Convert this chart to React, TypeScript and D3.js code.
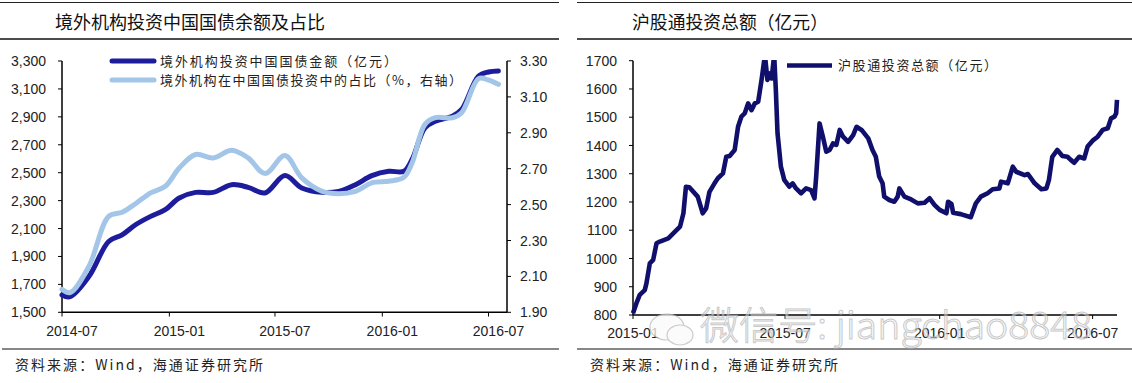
import React from "react";
import * as d3 from "d3";

// ---------- Left chart data ----------
const bondDates = ["2014-07-01","2014-07-15","2014-08-16","2014-09-19","2014-10-12","2014-11-04","2014-11-30","2014-12-25","2015-01-18","2015-02-15","2015-03-17","2015-04-18","2015-05-16","2015-06-14","2015-07-18","2015-08-16","2015-09-20","2015-10-18","2015-11-16","2015-12-14","2016-01-12","2016-02-07","2016-02-21","2016-03-14","2016-04-01","2016-04-30","2016-05-16","2016-06-14","2016-07-01","2016-07-18"];
const bondAmount = [1624,1612,1756,2007,2055,2127,2187,2235,2319,2359,2359,2414,2395,2355,2479,2390,2359,2366,2414,2479,2510,2510,2594,2821,2869,2905,2953,3192,3221,3228];
const bondShare = [2.028,2.01,2.155,2.434,2.457,2.505,2.565,2.602,2.704,2.779,2.76,2.803,2.76,2.673,2.773,2.649,2.574,2.561,2.574,2.621,2.63,2.652,2.732,2.947,2.984,2.984,3.012,3.202,3.194,3.17];
const leftTicks = [1500,1700,1900,2100,2300,2500,2700,2900,3100,3300];
const rightTicks = [1.9,2.1,2.3,2.5,2.7,2.9,3.1,3.3];
const bondXTicks = ["2014-07","2015-01","2015-07","2016-01","2016-07"];

// ---------- Right chart data ----------
const hgtDates = ["2015-01-01","2015-01-05","2015-01-09","2015-01-15","2015-01-17","2015-01-21","2015-01-25","2015-01-29","2015-02-02","2015-02-12","2015-02-20","2015-02-26","2015-03-02","2015-03-05","2015-03-09","2015-03-19","2015-03-25","2015-03-29","2015-04-02","2015-04-08","2015-04-12","2015-04-18","2015-04-22","2015-04-26","2015-05-02","2015-05-06","2015-05-10","2015-05-14","2015-05-18","2015-05-22","2015-05-26","2015-05-30","2015-06-03","2015-06-07","2015-06-10","2015-06-13","2015-06-15","2015-06-18","2015-06-20","2015-06-22","2015-06-26","2015-06-30","2015-07-06","2015-07-10","2015-07-14","2015-07-20","2015-07-26","2015-08-01","2015-08-05","2015-08-07","2015-08-11","2015-08-15","2015-08-19","2015-08-23","2015-08-27","2015-08-31","2015-09-04","2015-09-08","2015-09-14","2015-09-20","2015-09-24","2015-09-30","2015-10-08","2015-10-13","2015-10-17","2015-10-21","2015-10-25","2015-10-27","2015-11-02","2015-11-08","2015-11-12","2015-11-14","2015-11-20","2015-11-28","2015-12-06","2015-12-14","2015-12-20","2015-12-26","2016-01-01","2016-01-09","2016-01-11","2016-01-15","2016-01-17","2016-01-26","2016-02-07","2016-02-13","2016-02-19","2016-02-27","2016-03-04","2016-03-12","2016-03-14","2016-03-22","2016-03-28","2016-04-01","2016-04-11","2016-04-15","2016-04-23","2016-05-01","2016-05-07","2016-05-10","2016-05-14","2016-05-20","2016-05-26","2016-06-01","2016-06-05","2016-06-09","2016-06-15","2016-06-21","2016-06-25","2016-07-01","2016-07-07","2016-07-13","2016-07-19","2016-07-23","2016-07-27","2016-07-29","2016-07-30"];
const hgtValues = [806,841,871,888,912,983,995,1054,1060,1071,1095,1113,1160,1254,1252,1219,1160,1177,1236,1266,1284,1301,1360,1363,1384,1466,1502,1514,1549,1525,1549,1555,1632,1720,1632,1655,1637,1720,1596,1443,1325,1278,1254,1266,1248,1231,1248,1242,1213,1290,1478,1431,1378,1384,1407,1402,1455,1431,1413,1437,1466,1455,1425,1384,1360,1290,1266,1219,1207,1201,1219,1248,1219,1209,1195,1197,1213,1189,1172,1160,1201,1193,1162,1157,1146,1195,1219,1231,1245,1248,1272,1266,1325,1307,1295,1299,1266,1245,1248,1278,1360,1384,1363,1360,1349,1339,1360,1354,1396,1417,1431,1455,1461,1496,1502,1514,1561];
const hgtTicks = [800,900,1000,1100,1200,1300,1400,1500,1600,1700];
const hgtXTicks = ["2015-01","2015-07","2016-01","2016-07"];

const parseDay = d3.timeParse("%Y-%m-%d");
const parseMonth = d3.timeParse("%Y-%m");

const NUM = "'Liberation Sans', Arial, sans-serif";
const CJK = "'Noto Sans CJK SC', sans-serif";

export default function App() {
  // left chart scales
  const xL = d3.scaleTime().domain([parseMonth("2014-07")!, parseMonth("2016-07")!]).range([62, 488.5]);
  const yL = d3.scaleLinear().domain([1500, 3300]).range([312.3, 61]);
  const yR = d3.scaleLinear().domain([1.9, 3.3]).range([312.3, 61]);
  const bondRows = bondDates.map((d, i) => ({ date: parseDay(d)!, amt: bondAmount[i], share: bondShare[i] }));
  const amtLine = d3.line<any>().x(d => xL(d.date)).y(d => yL(d.amt)).curve(d3.curveCatmullRom.alpha(0.5));
  const shareLine = d3.line<any>().x(d => xL(d.date)).y(d => yR(d.share)).curve(d3.curveCatmullRom.alpha(0.5));
  const fmtL = d3.format(",");
  const fmtR = d3.format(".2f");

  // right chart scales
  const xS = d3.scaleTime().domain([parseDay("2015-01-01")!, parseDay("2016-07-30")!]).range([633, 1117]);
  const yS = d3.scaleLinear().domain([800, 1700]).range([315, 60.7]);
  const hgtRows = hgtDates.map((d, i) => ({ date: parseDay(d)!, v: hgtValues[i] }));
  const hgtLine = d3.line<any>().x(d => xS(d.date)).y(d => yS(d.v));

  const darkBlue = "#1c1c9c";
  const lightBlue = "#a3c6e8";
  const navy = "#10106c";

  return (
    <svg width={1132} height={383} style={{ position: "absolute", left: 0, top: 0, background: "#fff" }}>
      <rect x={0} y={0} width={1132} height={383} fill="#fff" />
      <defs>
        <clipPath id="clipS">
          <rect x={630} y={60} width={495} height={262} />
        </clipPath>
      </defs>

      {/* ===== Left panel ===== */}
      <line x1={0} x2={559} y1={2.5} y2={2.5} stroke="#222" strokeWidth={1} />
      <text x={55} y={29} fontFamily={CJK} fontSize={18} fill="#111" textLength={270} lengthAdjust="spacingAndGlyphs">境外机构投资中国国债余额及占比</text>
      <line x1={0} x2={559} y1={39} y2={39} stroke="#111" strokeWidth={1.5} />

      {/* axes */}
      <line x1={62} x2={62} y1={61} y2={312.3} stroke="#000" strokeWidth={1.5} />
      <line x1={507} x2={507} y1={61} y2={312.3} stroke="#000" strokeWidth={1.5} />
      <line x1={62} x2={507} y1={312.3} y2={312.3} stroke="#000" strokeWidth={1.5} />
      {leftTicks.map(t => (
        <g key={"lt" + t}>
          <line x1={58} x2={62} y1={yL(t)} y2={yL(t)} stroke="#000" />
          <text x={46} y={yL(t)} dy="0.36em" textAnchor="end" fontFamily={NUM} fontSize={14} fill="#222">{fmtL(t)}</text>
        </g>
      ))}
      {rightTicks.map(t => (
        <g key={"rt" + t}>
          <line x1={507} x2={511} y1={yR(t)} y2={yR(t)} stroke="#000" />
          <text x={520} y={yR(t)} dy="0.36em" textAnchor="start" fontFamily={NUM} fontSize={14} fill="#222">{fmtR(t)}</text>
        </g>
      ))}
      {bondXTicks.map(t => (
        <g key={"bx" + t}>
          <line x1={xL(parseMonth(t)!)} x2={xL(parseMonth(t)!)} y1={312.3} y2={316.5} stroke="#000" />
          <text x={xL(parseMonth(t)!) + 10} y={336} textAnchor="middle" fontFamily={NUM} fontSize={14} fill="#222">{t}</text>
        </g>
      ))}

      {/* lines */}
      <path d={amtLine(bondRows) || ""} fill="none" stroke={darkBlue} strokeWidth={5} strokeLinejoin="round" strokeLinecap="round" />
      <path d={shareLine(bondRows) || ""} fill="none" stroke={lightBlue} strokeWidth={5} strokeLinejoin="round" strokeLinecap="round" />

      {/* legend */}
      <line x1={112} x2={154} y1={61} y2={61} stroke={darkBlue} strokeWidth={5} strokeLinecap="round" />
      <text x={160} y={65.5} fontFamily={CJK} fontSize={13} fill="#222" textLength={237} lengthAdjust="spacing">境外机构投资中国国债金额（亿元）</text>
      <line x1={112} x2={154} y1={80} y2={80} stroke={lightBlue} strokeWidth={5} strokeLinecap="round" />
      <text x={160} y={84.5} fontFamily={CJK} fontSize={13} fill="#222" textLength={302} lengthAdjust="spacing">境外机构在中国国债投资中的占比（%，右轴）</text>

      <line x1={2} x2={559} y1={349} y2={349} stroke="#111" strokeWidth={1.2} />
      <text x={15} y={370} fontFamily={CJK} fontSize={14} fill="#222" textLength={248} lengthAdjust="spacing">资料来源：Wind，海通证券研究所</text>

      {/* ===== Right panel ===== */}
      <line x1={577} x2={1132} y1={2.5} y2={2.5} stroke="#222" strokeWidth={1} />
      <text x={632} y={29} fontFamily={CJK} fontSize={18} fill="#111" textLength={196} lengthAdjust="spacingAndGlyphs">沪股通投资总额（亿元）</text>
      <line x1={577} x2={1132} y1={39} y2={39} stroke="#111" strokeWidth={1.5} />

      <line x1={633} x2={633} y1={60.7} y2={315} stroke="#000" strokeWidth={1.5} />
      <line x1={633} x2={1117} y1={315} y2={315} stroke="#000" strokeWidth={1.5} />
      {hgtTicks.map(t => (
        <g key={"ht" + t}>
          <line x1={629} x2={633} y1={yS(t)} y2={yS(t)} stroke="#000" />
          <text x={617} y={yS(t)} dy="0.36em" textAnchor="end" fontFamily={NUM} fontSize={14} fill="#222">{t}</text>
        </g>
      ))}
      {hgtXTicks.map(t => (
        <g key={"hx" + t}>
          <line x1={xS(parseMonth(t)!)} x2={xS(parseMonth(t)!)} y1={315} y2={319} stroke="#000" />
          <text x={xS(parseMonth(t)!)} y={338} textAnchor="middle" fontFamily={NUM} fontSize={14} fill="#222">{t}</text>
        </g>
      ))}

      <path d={hgtLine(hgtRows) || ""} clipPath="url(#clipS)" fill="none" stroke={navy} strokeWidth={4.6} strokeLinejoin="round" />

      <line x1={787} x2={832} y1={65.5} y2={65.5} stroke={navy} strokeWidth={4.6} />
      <text x={838} y={70} fontFamily={CJK} fontSize={13} fill="#222" textLength={159} lengthAdjust="spacing">沪股通投资总额（亿元）</text>

      <line x1={577} x2={1132} y1={349} y2={349} stroke="#111" strokeWidth={1.2} />
      <text x={590} y={370} fontFamily={CJK} fontSize={14} fill="#222" textLength={248} lengthAdjust="spacing">资料来源：Wind，海通证券研究所</text>

      {/* watermark */}
      <g opacity={0.75}>
        <ellipse cx={667} cy={327} rx={17} ry={13} fill="#fafafa" stroke="#bbb" strokeWidth={1.2} />
        <ellipse cx={680} cy={335} rx={13} ry={10} fill="#fafafa" stroke="#bbb" strokeWidth={1.2} />
        <text x={700} y={339} fontFamily={CJK} fontWeight={300} fontSize={38} fill="rgba(250,250,250,0.6)" stroke="#b8b8b8" strokeWidth={1} textLength={392} lengthAdjust="spacingAndGlyphs">微信号: jiangchao8848</text>
      </g>
    </svg>
  );
}
